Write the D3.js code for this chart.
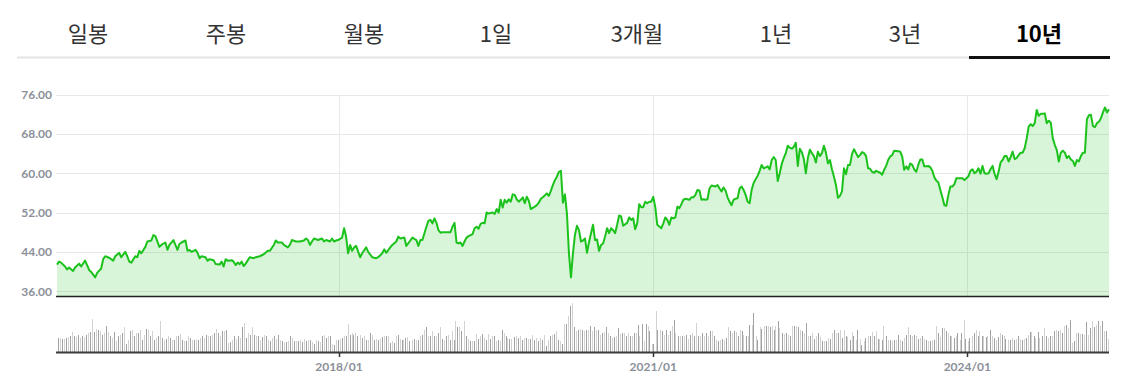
<!DOCTYPE html>
<html lang="ko">
<head>
<meta charset="utf-8">
<title>10년 차트</title>
<script src="https://cdn.jsdelivr.net/npm/d3@7"></script>
<style>
  body { margin: 0; background: #fff; }
  .tab { font-family: "Noto Sans CJK KR", sans-serif; font-size: 22px; fill: #333; }
  .tab.on { fill: #000; font-weight: bold; }
  .lbl { font-family: Lato, sans-serif; font-size: 12px; font-weight: bold; fill: #8b9099; }
</style>
</head>
<body>
<div id="chart"></div>
<script>
var tabs = ["일봉", "주봉", "월봉", "1일", "3개월", "1년", "3년", "10년"];
var activeTab = "10년";
var startDate = new Date(2015, 3, 24);
var yTicks = [36, 44, 52, 60, 68, 76];
var xTickYears = [2018, 2021, 2024];

// [weeks since startDate, close]
var closes = [[0,41.4],[1,42.0],[2,41.8],[4,41.0],[5,40.4],[6,40.8],[8,40.1],[9,40.8],[11,41.6],[12,41.0],[14,42.2],[16,40.3],[17,39.9],[19,38.8],[20,39.7],[22,40.6],[23,42.5],[24,43.1],[26,42.8],[28,42.2],[29,43.1],[31,43.8],[32,42.9],[34,44.0],[35,43.1],[36,42.0],[37,41.8],[39,43.1],[40,42.9],[41,44.2],[42,43.7],[44,45.0],[45,46.1],[47,46.3],[48,47.4],[49,47.2],[51,45.0],[52,45.4],[54,45.9],[55,44.4],[56,45.4],[58,46.4],[60,44.4],[61,45.6],[62,45.9],[64,46.3],[65,44.2],[66,44.4],[67,44.0],[69,44.4],[70,43.8],[71,42.7],[72,43.1],[74,42.9],[75,42.2],[76,42.5],[78,42.3],[79,41.5],[81,41.4],[82,42.0],[83,41.0],[84,42.5],[85,42.2],[87,42.3],[88,42.0],[89,41.3],[90,41.8],[91,41.5],[92,42.0],[93,41.1],[94,41.6],[96,42.9],[98,42.7],[99,42.9],[101,43.1],[103,43.5],[105,44.2],[106,44.2],[108,45.4],[109,46.3],[110,45.9],[112,45.9],[113,45.4],[115,44.9],[116,45.4],[117,46.4],[119,46.1],[121,46.1],[123,46.3],[124,46.7],[125,46.4],[126,45.4],[127,46.1],[128,46.7],[130,46.4],[132,46.7],[133,46.1],[134,46.4],[136,46.1],[137,46.7],[138,46.1],[139,46.3],[140,46.4],[142,46.9],[143,48.8],[144,47.1],[145,43.7],[146,45.4],[147,44.2],[148,44.9],[149,45.2],[151,42.9],[152,43.7],[154,44.9],[155,44.0],[157,42.9],[159,42.7],[160,42.9],[162,43.7],[163,44.5],[164,43.8],[166,44.9],[167,45.4],[169,46.1],[170,47.1],[171,46.7],[173,46.9],[174,45.2],[176,46.3],[177,46.9],[179,46.4],[180,45.2],[181,46.4],[182,46.4],[184,49.1],[185,50.3],[186,50.5],[187,49.8],[188,50.8],[189,49.9],[190,48.4],[191,47.9],[192,48.0],[194,48.0],[196,48.0],[197,49.1],[198,49.9],[199,45.9],[200,45.7],[201,45.9],[202,45.2],[203,46.1],[204,46.9],[205,47.2],[207,47.6],[208,48.8],[209,49.1],[210,48.7],[211,49.7],[212,49.9],[213,49.8],[214,52.0],[215,51.8],[217,52.0],[218,51.7],[219,52.7],[220,52.0],[221,54.6],[222,53.0],[223,54.6],[224,54.0],[225,54.7],[226,54.2],[227,55.7],[228,55.6],[229,54.7],[230,54.2],[231,54.6],[232,55.1],[233,53.9],[234,55.2],[235,54.4],[236,52.7],[238,53.2],[239,53.5],[240,54.0],[241,54.8],[242,55.1],[244,55.9],[245,55.4],[246,56.4],[247,57.6],[248,58.6],[249,59.3],[250,60.3],[251,60.5],[252,54.0],[253,55.7],[254,51.8],[255,43.7],[256,38.8],[257,43.7],[258,47.5],[259,49.3],[260,48.4],[261,46.1],[262,46.3],[263,46.7],[264,43.8],[265,46.0],[266,47.8],[267,49.5],[268,46.4],[269,46.5],[270,44.2],[271,45.4],[272,45.7],[273,47.1],[274,48.8],[275,47.8],[276,48.8],[277,48.4],[278,47.8],[279,49.5],[280,51.4],[281,51.2],[282,49.3],[284,49.9],[285,51.0],[286,50.5],[287,50.8],[288,48.6],[289,49.8],[290,53.7],[291,53.1],[292,53.1],[293,54.2],[294,53.9],[295,54.2],[296,54.2],[297,55.2],[298,53.1],[299,49.5],[301,48.8],[302,49.8],[303,51.0],[304,50.5],[305,49.5],[306,51.0],[307,50.8],[308,51.0],[309,53.2],[310,52.9],[311,53.7],[312,54.6],[313,54.8],[315,54.6],[316,55.1],[317,55.1],[318,55.6],[319,56.6],[320,56.5],[321,54.6],[322,54.7],[323,54.6],[324,54.7],[325,56.9],[326,57.5],[327,57.4],[328,57.3],[329,57.6],[330,56.9],[331,56.3],[332,57.1],[333,56.5],[334,55.1],[335,54.2],[336,53.5],[337,54.6],[338,54.8],[339,54.9],[340,56.9],[341,57.3],[342,56.6],[343,55.6],[344,54.2],[345,53.9],[346,56.6],[347,58.0],[348,58.8],[349,59.5],[350,60.5],[351,61.7],[352,61.0],[353,61.2],[354,61.4],[355,60.8],[356,62.7],[357,63.3],[358,62.7],[359,58.4],[360,60.0],[361,61.9],[362,63.1],[363,64.1],[364,65.6],[365,65.2],[366,65.0],[367,65.4],[368,66.2],[369,61.5],[370,65.0],[371,64.3],[372,62.9],[373,60.0],[374,63.1],[375,64.8],[376,64.1],[377,63.5],[378,62.2],[379,64.4],[380,63.5],[381,64.1],[382,65.6],[383,64.2],[384,62.0],[385,62.7],[386,60.8],[387,59.3],[388,57.6],[389,55.0],[390,55.4],[391,56.3],[392,61.0],[393,59.8],[394,61.7],[395,61.7],[396,63.9],[397,64.9],[398,64.1],[399,63.3],[400,63.7],[401,64.3],[402,64.1],[403,63.5],[404,61.0],[405,60.9],[406,60.3],[407,60.1],[408,60.5],[410,60.1],[411,59.7],[412,60.7],[413,61.5],[414,62.7],[415,63.4],[416,63.7],[417,64.6],[419,64.5],[420,64.4],[421,63.4],[422,60.7],[423,61.4],[424,60.8],[425,62.0],[426,61.7],[427,60.8],[428,60.3],[429,61.7],[430,62.8],[431,62.8],[432,61.4],[434,61.5],[435,61.2],[436,60.5],[437,59.2],[438,58.5],[439,58.1],[440,56.6],[441,55.1],[442,53.5],[443,53.4],[444,55.6],[445,57.3],[446,57.3],[447,57.8],[448,59.0],[449,59.0],[451,59.0],[452,58.6],[454,59.4],[455,60.5],[456,60.8],[457,60.0],[458,60.3],[459,61.0],[460,59.9],[461,61.5],[462,60.0],[463,59.9],[464,60.0],[465,60.8],[466,61.5],[467,59.9],[468,58.8],[469,60.3],[470,62.2],[471,62.7],[472,63.5],[473,63.5],[474,62.4],[475,63.3],[476,64.4],[477,62.9],[478,63.1],[479,63.7],[480,64.2],[481,64.2],[482,65.1],[483,67.1],[484,69.5],[485,70.0],[486,69.6],[487,70.2],[488,72.9],[489,71.7],[490,72.1],[491,72.1],[492,72.2],[493,70.2],[494,70.7],[495,70.3],[496,67.1],[497,65.8],[498,64.7],[499,62.4],[500,64.2],[501,64.6],[502,64.2],[503,63.1],[504,63.5],[505,62.8],[506,62.5],[507,61.5],[508,62.7],[509,62.4],[510,63.5],[511,64.2],[512,64.2],[513,71.0],[514,71.8],[515,71.9],[516,69.6],[517,69.4],[518,70.2],[519,70.5],[520,71.2],[521,72.4],[522,73.4],[523,72.4],[524,73.0]];

// weekly volume (relative)
var volume = [14,14,13,13,14,15,16,20,16,15,17,14,16,15,17,19,
  20,33,20,23,22,21,17,19,26,20,16,14,20,11,16,17,19,25,8,12,21,22,16,19,19,22,12,17,23,22,16,21,12,14,16,31,14,12,13,16,
  14,12,12,16,16,18,12,11,11,16,14,12,12,13,12,14,16,14,17,16,16,17,19,23,19,16,21,21,22,9,10,12,16,13,16,14,25,29,14,19,
  17,25,17,16,16,12,15,17,16,12,11,14,16,13,17,12,11,10,10,11,16,14,11,11,11,12,10,13,11,12,12,10,8,12,11,10,16,17,14,16,
  16,8,7,12,12,13,14,16,16,28,17,19,17,19,16,17,14,16,12,12,19,17,12,13,12,13,15,16,16,16,9,11,9,16,17,
  13,12,12,14,15,11,12,13,12,12,16,17,22,25,16,16,21,16,16,19,25,13,12,16,17,12,21,12,31,25,
  25,21,31,16,13,11,11,11,18,13,16,18,14,12,18,13,16,16,11,12,11,22,19,16,14,13,13,15,16,14,
  16,12,14,14,13,13,17,12,14,11,14,12,17,6,12,16,17,18,21,12,11,8,28,28,36,46,49,25,21,22,
  23,22,21,22,22,26,21,25,22,22,17,19,20,25,19,16,14,15,16,24,18,19,19,16,19,16,16,19,19,27,
  16,28,11,28,26,21,8,8,41,22,22,21,17,22,17,21,26,32,19,16,16,16,16,17,13,17,19,16,29,16,
  16,19,16,19,16,21,21,16,12,11,12,13,12,14,25,21,19,21,20,16,22,21,17,16,16,27,27,39,16,12,
  25,23,26,26,26,25,26,22,26,31,24,19,18,19,17,16,26,26,26,25,
  22,21,19,29,16,16,19,13,16,19,15,11,11,11,14,13,19,22,19,19,22,14,22,16,15,12,20,16,12,22,
  13,7,11,14,16,16,20,16,21,13,13,12,26,16,12,12,11,12,12,17,12,11,14,17,25,17,16,17,16,13,
  14,16,13,12,11,11,12,12,26,19,15,24,24,21,19,16,16,14,16,19,12,19,32,13,11,14,16,19,22,16,
  21,16,16,15,16,22,16,14,12,15,19,17,16,13,12,12,14,12,13,16,13,12,13,14,17,20,20,16,14,20,
  14,16,24,16,14,16,16,21,22,21,22,19,26,27,24,32,9,11,19,19,18,18,17,30,17,24,31,25,27,31,
  26,31,21,21,13];

// layout
var W = 1125, H = 385;
var left = 57, right = 1109;
var tabX = [88, 226, 364, 496, 637, 776, 905, 1039];

var svg = d3.select("#chart").append("svg")
  .attr("width", W).attr("height", H);

// tabs
svg.append("line")
  .attr("x1", 17).attr("x2", 1110).attr("y1", 57.5).attr("y2", 57.5)
  .attr("stroke", "#e4e4e4").attr("stroke-width", 2);

svg.selectAll(".tab").data(tabs).enter().append("text")
  .attr("class", function(d) { return d === activeTab ? "tab on" : "tab"; })
  .attr("x", function(d, i) { return tabX[i]; })
  .attr("y", 32)
  .attr("text-anchor", "middle")
  .attr("dominant-baseline", "central")
  .text(function(d) { return d; });

svg.append("line")
  .attr("x1", 969).attr("x2", 1110).attr("y1", 57.5).attr("y2", 57.5)
  .attr("stroke", "#111").attr("stroke-width", 3);

// scales
var data = closes.map(function(d) {
  return { date: d3.timeDay.offset(startDate, d[0] * 7), close: d[1] };
});
var endDate = data[data.length - 1].date;

var x = d3.scaleTime().domain([startDate, endDate]).range([left, right]);
var y = d3.scaleLinear().domain([35, 76]).range([296, 94.7]);
var xv = d3.scaleLinear().domain([0, volume.length - 1]).range([left + 0.5, right - 1.5]);
var yv = d3.scaleLinear().domain([0, 50]).range([352, 302]);

var years = xTickYears.map(function(yr) { return new Date(yr, 0, 1); });

// grid
svg.selectAll(".hgrid").data(yTicks).enter().append("line")
  .attr("x1", left - 1).attr("x2", right)
  .attr("y1", function(d) { return Math.round(y(d)) + 0.5; })
  .attr("y2", function(d) { return Math.round(y(d)) + 0.5; })
  .attr("stroke", "#e8e8e8");

svg.selectAll(".vgrid").data(years).enter().append("line")
  .attr("x1", function(d) { return Math.round(x(d)) + 0.5; })
  .attr("x2", function(d) { return Math.round(x(d)) + 0.5; })
  .attr("y1", 95).attr("y2", 296)
  .attr("stroke", "#e8e8e8");

// price area + line
var area = d3.area()
  .x(function(d) { return x(d.date); })
  .y0(y(35))
  .y1(function(d) { return y(d.close); });

var line = d3.line()
  .x(function(d) { return x(d.date); })
  .y(function(d) { return y(d.close); });

svg.append("path").datum(data)
  .attr("d", area)
  .attr("fill", "rgb(20,190,20)")
  .attr("fill-opacity", 0.16);

svg.append("path").datum(data)
  .attr("d", line)
  .attr("fill", "none")
  .attr("stroke", "#1cc21c")
  .attr("stroke-width", 2)
  .attr("stroke-linejoin", "round");

svg.append("line")
  .attr("x1", left - 1).attr("x2", right).attr("y1", 296.5).attr("y2", 296.5)
  .attr("stroke", "#222").attr("stroke-width", 1.6);

// y labels
svg.selectAll(".ylbl").data(yTicks).enter().append("text")
  .attr("class", "lbl")
  .attr("x", 52)
  .attr("y", function(d) { return y(d); })
  .attr("text-anchor", "end")
  .attr("dominant-baseline", "central")
  .text(function(d) { return d3.format(".2f")(d); });

// volume
svg.selectAll(".vol").data(volume).enter().append("rect")
  .attr("x", function(d, i) { return Math.round(xv(i)); })
  .attr("width", 1)
  .attr("y", function(d) { return yv(d); })
  .attr("height", function(d) { return yv(0) - yv(d); })
  .attr("fill", function(d, i) { return i % 2 ? "#d2d2d2" : "#a2a2a2"; });

svg.append("line")
  .attr("x1", left - 1).attr("x2", right).attr("y1", 352.5).attr("y2", 352.5)
  .attr("stroke", "#3a3a3a").attr("stroke-width", 2);

svg.selectAll(".xtick").data(years).enter().append("line")
  .attr("x1", function(d) { return Math.round(x(d)) + 0.5; })
  .attr("x2", function(d) { return Math.round(x(d)) + 0.5; })
  .attr("y1", 353).attr("y2", 357)
  .attr("stroke", "#333").attr("stroke-width", 1.5);

svg.selectAll(".xlbl").data(years).enter().append("text")
  .attr("class", "lbl")
  .attr("x", function(d) { return x(d); })
  .attr("y", 371)
  .attr("text-anchor", "middle")
  .text(d3.timeFormat("%Y/%m"));
</script>
</body>
</html>
